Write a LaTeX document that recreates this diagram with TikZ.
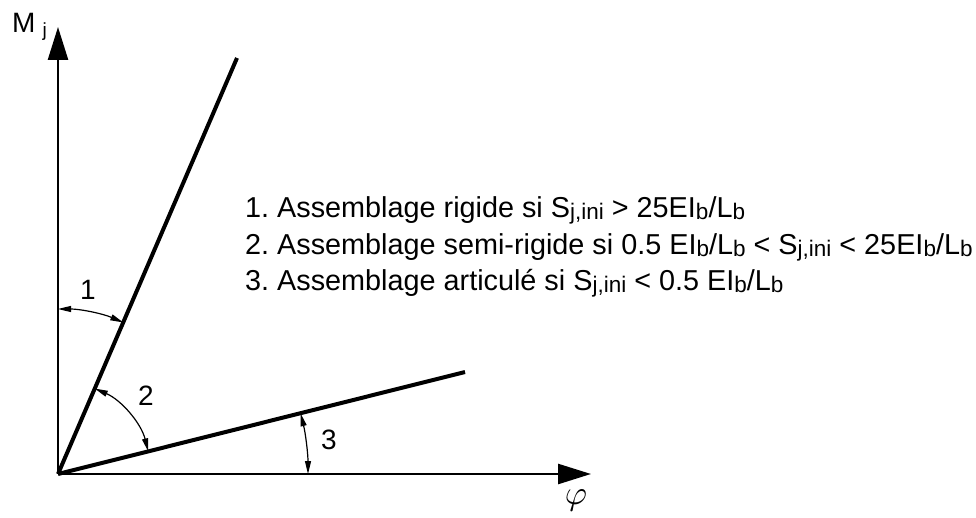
\documentclass[tikz,border=0pt]{standalone}
\usepackage{fontspec}
\setmainfont{Liberation Sans}
\usetikzlibrary{arrows.meta}
\frenchspacing
\newcommand\lo[1]{\raisebox{-0.06em}{\fontsize{22.5}{22.5}\selectfont #1}}
\tikzset{
  axis/.style={line width=2.6pt,-{Triangle[length=33pt,width=20pt]}},
  curve/.style={line width=4pt},
  dim/.style={line width=1.2pt,{Triangle[length=13pt,width=6pt]}-{Triangle[length=13pt,width=6pt]}},
  lab/.style={font=\fontsize{28}{28}\selectfont, inner sep=0pt},
  txt/.style={font=\fontsize{28.8}{28.8}\selectfont, inner sep=0pt, anchor=base west}
}
\begin{document}
\begin{tikzpicture}[x=1pt,y=1pt]
\useasboundingbox (0,0) rectangle (976,517);
\coordinate (O) at (58,43);
\coordinate (Ytip) at (58,490);
\coordinate (Xtip) at (591,43);
\coordinate (A) at (237,459);
\coordinate (B) at (465,145);
% axes
\draw[axis] (O) -- (Ytip);
\draw[axis] (O) -- (Xtip);
% curves
\draw[curve,line cap=butt] (O) -- (A);
\draw[curve,line cap=butt] (O) -- (B);
% dimension arcs
\draw[dim] ([shift={(90:165)}]O) arc[start angle=90,end angle=66.7,radius=165];
\draw[dim] ([shift={(66.7:93)}]O) arc[start angle=66.7,end angle=14.07,radius=93];
\draw[dim] ([shift={(14.07:250)}]O) arc[start angle=14.07,end angle=0,radius=250];
% labels
\node[lab] (l1) at (88,227) {1};
\node[lab] (l2) at (146,121) {2};
\node[lab] (l3) at (329,77) {3};
\node[inner sep=0pt,anchor=base west] (mj) at (12,484) {\fontsize{28}{28}\selectfont M\hspace{7pt}\raisebox{-0.12em}{\fontsize{19}{19}\selectfont j}};
\node[inner sep=0pt,scale=3.4] (phi) at (576,17) {$\varphi$};
% legend
\node[txt] (t1) at (245,299) {1. Assemblage rigide si S\lo{j,ini} > 25EI\lo{b}/L\lo{b}};
\node[txt] (t2) at (245,262) {2. Assemblage semi-rigide si 0.5 EI\lo{b}/L\lo{b} < S\lo{j,ini} < 25EI\lo{b}/L\lo{b}};
\node[txt] (t3) at (245,226) {3. Assemblage articulé si S\lo{j,ini} < 0.5 EI\lo{b}/L\lo{b}};
\end{tikzpicture}
\end{document}
